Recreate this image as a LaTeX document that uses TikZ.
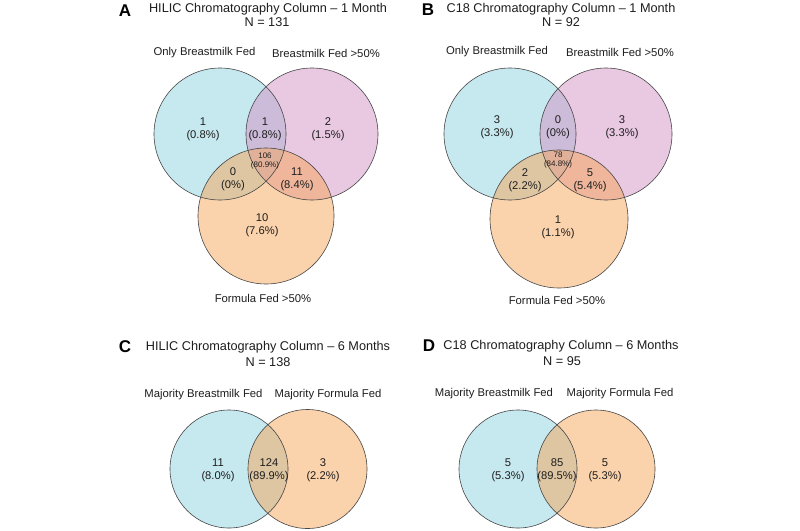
\documentclass[tikz,border=0pt]{standalone}
\usepackage{fontspec}
\setmainfont{Liberation Sans}
\definecolor{vblue}{RGB}{143,210,225}
\definecolor{vpink}{RGB}{212,146,196}
\definecolor{vorange}{RGB}{246,166,88}
\definecolor{vline}{RGB}{70,70,70}
\definecolor{vtext}{RGB}{30,30,30}
\tikzset{
  vfill/.style={fill=#1, fill opacity=0.5},
  vring/.style={draw=vline, line width=0.6pt},
  ttl/.style={font=\fontsize{12.7}{15}\selectfont, text=vtext, inner sep=0pt},
  lbl/.style={font=\fontsize{11.3}{13}\selectfont, text=vtext, inner sep=0pt},
  val/.style={font=\fontsize{11.2}{13}\selectfont, align=center, text=vtext, inner sep=0pt},
  sval/.style={font=\fontsize{8}{9.5}\selectfont, align=center, text=vtext, inner sep=0pt},
  panel/.style={font=\fontsize{17}{18}\selectfont\bfseries, text=black, inner sep=0pt}
}
\begin{document}
\begin{tikzpicture}[x=1pt,y=-1pt]
\useasboundingbox (0,0) rectangle (800,530);
\fill[white] (0,0) rectangle (800,530);

% ---------------- Panel A ----------------
\node[panel] (pA) at (125,11) {A};
\node[ttl] (tA) at (268,9) {HILIC Chromatography Column – 1 Month};
\node[ttl] (nA) at (267,22.5) {N = 131};
\node[lbl] (lA1) at (204.5,53) {Only Breastmilk Fed};
\node[lbl] (lA2) at (326,53) {Breastmilk Fed >50\%};
\fill[vfill=vblue] (220,134) circle[radius=66pt];
\fill[vfill=vpink] (312,134) circle[radius=66pt];
\fill[vfill=vorange] (266,216) circle[radius=68pt];
\draw[vring] (220,134) circle[radius=66pt];
\draw[vring] (312,134) circle[radius=66pt];
\draw[vring] (266,216) circle[radius=68pt];
\node[val] (a1) at (203,129.5) {1\\(0.8\%)};
\node[val] (a2) at (265,129.5) {1\\(0.8\%)};
\node[val] (a3) at (328,129.5) {2\\(1.5\%)};
\node[sval] (a4) at (265,161) {106\\(80.9\%)};
\node[val] (a5) at (233,179.5) {0\\(0\%)};
\node[val] (a6) at (297,179.5) {11\\(8.4\%)};
\node[val] (a7) at (262,225) {10\\(7.6\%)};
\node[lbl] (lA3) at (263,298) {Formula Fed >50\%};

% ---------------- Panel B ----------------
\node[panel] (pB) at (428,10) {B};
\node[ttl] (tB) at (561,9) {C18 Chromatography Column – 1 Month};
\node[ttl] (nB) at (561,22.5) {N = 92};
\node[lbl] (lB1) at (497,52) {Only Breastmilk Fed};
\node[lbl] (lB2) at (620,52) {Breastmilk Fed >50\%};
\fill[vfill=vblue] (510,134) circle[radius=66pt];
\fill[vfill=vpink] (606,134) circle[radius=66pt];
\fill[vfill=vorange] (559,219) circle[radius=69pt];
\draw[vring] (510,134) circle[radius=66pt];
\draw[vring] (606,134) circle[radius=66pt];
\draw[vring] (559,219) circle[radius=69pt];
\node[val] (b1) at (497,127) {3\\(3.3\%)};
\node[val] (b2) at (558,127) {0\\(0\%)};
\node[val] (b3) at (622,127) {3\\(3.3\%)};
\node[sval] (b4) at (558,160) {78\\(84.8\%)};
\node[val] (b5) at (525,180) {2\\(2.2\%)};
\node[val] (b6) at (590,180) {5\\(5.4\%)};
\node[val] (b7) at (558,227) {1\\(1.1\%)};
\node[lbl] (lB3) at (557,300) {Formula Fed >50\%};

% ---------------- Panel C ----------------
\node[panel] (pC) at (125,347) {C};
\node[ttl] (tC) at (268,347) {HILIC Chromatography Column – 6 Months};
\node[ttl] (nC) at (268,362) {N = 138};
\node[lbl] (lC1) at (203.5,395) {Majority Breastmilk Fed};
\node[lbl] (lC2) at (328,395) {Majority Formula Fed};
\fill[vfill=vblue] (229,469) circle[radius=59pt];
\fill[vfill=vorange] (307.5,469) circle[radius=59.5pt];
\draw[vring] (229,469) circle[radius=59pt];
\draw[vring] (307.5,469) circle[radius=59.5pt];
\node[val] (c1) at (218,470.5) {11\\(8.0\%)};
\node[val] (c2) at (269,470.5) {124\\(89.9\%)};
\node[val] (c3) at (323,470.5) {3\\(2.2\%)};

% ---------------- Panel D ----------------
\node[panel] (pD) at (429,346) {D};
\node[ttl] (tD) at (561,346) {C18 Chromatography Column – 6 Months};
\node[ttl] (nD) at (562,361) {N = 95};
\node[lbl] (lD1) at (494,394) {Majority Breastmilk Fed};
\node[lbl] (lD2) at (620,394) {Majority Formula Fed};
\fill[vfill=vblue] (518,469) circle[radius=59pt];
\fill[vfill=vorange] (596,469) circle[radius=59pt];
\draw[vring] (518,469) circle[radius=59pt];
\draw[vring] (596,469) circle[radius=59pt];
\node[val] (d1) at (508,470.5) {5\\(5.3\%)};
\node[val] (d2) at (557,470.5) {85\\(89.5\%)};
\node[val] (d3) at (605,470.5) {5\\(5.3\%)};
\end{tikzpicture}
\end{document}
